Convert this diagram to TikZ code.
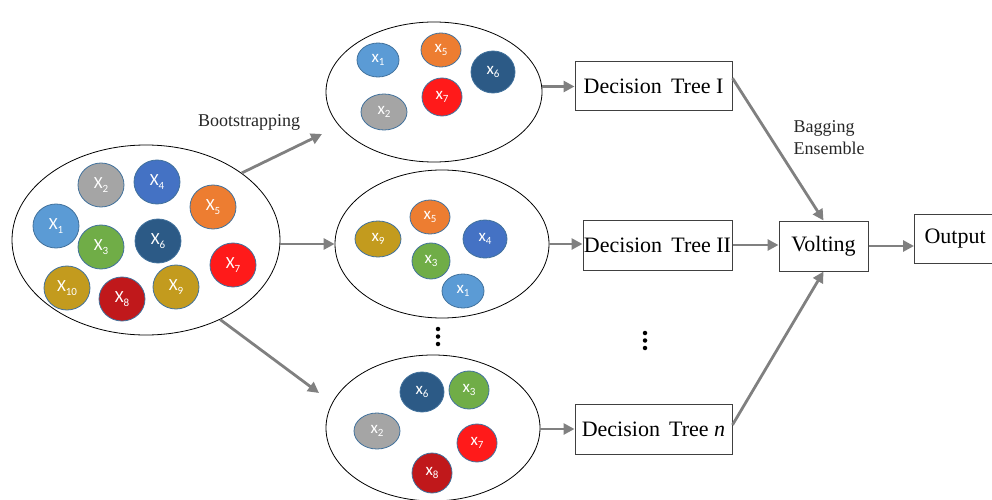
\documentclass[tikz,border=0pt]{standalone}
\usepackage{fontspec}
\setmainfont{Liberation Serif}
\newfontfamily\ballfont{Carlito}
\usetikzlibrary{shapes.geometric,arrows.meta}

\definecolor{cOne}{HTML}{5B9BD5}
\definecolor{cTwo}{HTML}{A5A5A5}
\definecolor{cThree}{HTML}{70AD47}
\definecolor{cFour}{HTML}{4472C4}
\definecolor{cFive}{HTML}{ED7D31}
\definecolor{cSix}{HTML}{2C5A86}
\definecolor{cSeven}{HTML}{FF1A1A}
\definecolor{cEight}{HTML}{C0181B}
\definecolor{cGold}{HTML}{C39B1E}
\definecolor{ballline}{HTML}{41719C}
\definecolor{arrowgray}{HTML}{808080}
\definecolor{boxline}{HTML}{404040}

% subscripted ball label
\newcommand\ballx[2]{#1\raisebox{-0.45ex}{\fontsize{11}{11}\selectfont #2}}

\tikzset{
  sample/.style={ellipse, draw=black, line width=0.8pt, inner sep=0pt},
  ball/.style={ellipse, draw=ballline, line width=0.8pt, inner sep=0pt,
               text=white, font=\ballfont\fontsize{17}{17}\selectfont},
  treebox/.style={rectangle, draw=boxline, line width=1pt, inner sep=0pt,
                  font=\fontsize{22}{26}\selectfont},
  flow/.style={draw=arrowgray, line width=2.8pt,
               -{Triangle[length=11pt,width=11pt]}},
  note/.style={font=\fontsize{18}{22}\selectfont, text=black!85, align=left},
  dot/.style={circle, fill=black, inner sep=0pt, minimum size=4.5pt},
}

\begin{document}
\begin{tikzpicture}[x=1pt,y=-1pt]
\useasboundingbox (0,0) rectangle (992,500);
\clip (0,0) rectangle (992,500);

% full sample set
\node[sample, minimum width=268pt, minimum height=190pt] (pool) at (146,240) {};
\node[ball, fill=cTwo, minimum width=46pt, minimum height=44pt] (p2) at (101,185) {\ballx{X}{2}};
\node[ball, fill=cFour, minimum width=46pt, minimum height=44pt] (p4) at (157,182) {\ballx{X}{4}};
\node[ball, fill=cFive, minimum width=46pt, minimum height=44pt] (p5) at (213,207) {\ballx{X}{5}};
\node[ball, fill=cOne, minimum width=46pt, minimum height=44pt] (p1) at (56,226) {\ballx{X}{1}};
\node[ball, fill=cThree, minimum width=46pt, minimum height=44pt] (p3) at (101,247) {\ballx{X}{3}};
\node[ball, fill=cSix, minimum width=46pt, minimum height=44pt] (p6) at (158,241) {\ballx{X}{6}};
\node[ball, fill=cSeven, minimum width=46pt, minimum height=44pt] (p7) at (233,265) {\ballx{X}{7}};
\node[ball, fill=cGold, minimum width=46pt, minimum height=44pt] (p10) at (67,288) {\ballx{X}{10}};
\node[ball, fill=cEight, minimum width=46pt, minimum height=44pt] (p8) at (122,299) {\ballx{X}{8}};
\node[ball, fill=cGold, minimum width=46pt, minimum height=44pt] (p9) at (176,287) {\ballx{X}{9}};

% bootstrap sample 1
\node[sample, minimum width=216pt, minimum height=140pt] (top) at (434,92) {};
\node[ball, fill=cOne, minimum width=42pt, minimum height=34pt] (t1) at (378,60) {\ballx{x}{1}};
\node[ball, fill=cFive, minimum width=40pt, minimum height=34pt] (t5) at (441,50) {\ballx{x}{5}};
\node[ball, fill=cSix, minimum width=44pt, minimum height=42pt] (t6) at (493,72) {\ballx{x}{6}};
\node[ball, fill=cSeven, minimum width=40pt, minimum height=38pt] (t7) at (442,97) {\ballx{x}{7}};
\node[ball, fill=cTwo, minimum width=46pt, minimum height=36pt] (t2) at (384,112) {\ballx{x}{2}};

% bootstrap sample 2
\node[sample, minimum width=214pt, minimum height=148pt] (mid) at (442,244) {};
\node[ball, fill=cFive, minimum width=40pt, minimum height=34pt] (m5) at (430,217) {\ballx{x}{5}};
\node[ball, fill=cGold, minimum width=46pt, minimum height=36pt] (m9) at (378,239) {\ballx{x}{9}};
\node[ball, fill=cFour, minimum width=44pt, minimum height=38pt] (m4) at (485,239) {\ballx{x}{4}};
\node[ball, fill=cThree, minimum width=38pt, minimum height=36pt] (m3) at (431,261) {\ballx{x}{3}};
\node[ball, fill=cOne, minimum width=42pt, minimum height=34pt] (m1) at (463,291) {\ballx{x}{1}};

% bootstrap sample n
\node[sample, minimum width=214pt, minimum height=146pt] (bot) at (433,428) {};
\node[ball, fill=cSix, minimum width=44pt, minimum height=40pt] (b6) at (422,392) {\ballx{x}{6}};
\node[ball, fill=cThree, minimum width=40pt, minimum height=38pt] (b3) at (469,390) {\ballx{x}{3}};
\node[ball, fill=cTwo, minimum width=46pt, minimum height=36pt] (b2) at (377,431) {\ballx{x}{2}};
\node[ball, fill=cSeven, minimum width=40pt, minimum height=38pt] (b7) at (477,443) {\ballx{x}{7}};
\node[ball, fill=cEight, minimum width=40pt, minimum height=40pt] (b8) at (432,473) {\ballx{x}{8}};

% vertical ellipses
\node[dot] (da1) at (438,329) {};
\node[dot] (da2) at (438,336.5) {};
\node[dot] (da3) at (438,344) {};
\node[dot] (db1) at (645,333) {};
\node[dot] (db2) at (645,340.5) {};
\node[dot] (db3) at (645,348) {};

% decision trees and voting
\node[treebox, minimum width=157pt, minimum height=49pt] (dt1) at (653.5,86.5) {Decision\, Tree I};
\node[treebox, minimum width=149pt, minimum height=50pt] (dt2) at (657.5,245) {Decision\, Tree II};
\node[treebox, minimum width=157pt, minimum height=50pt] (dtn) at (653.5,429) {Decision\, Tree \textit{n}};
\node[treebox, minimum width=89pt, minimum height=50pt] (volt) at (823.5,246) {Volting};
\node[treebox, minimum width=120pt, minimum height=49pt, anchor=west, text width=112pt, align=left] (out) at (914,238.5) {\hspace*{6pt}Output};

% labels
\node[note, anchor=base] (bootlbl) at (249,126) {Bootstrapping};
\node[note, anchor=north west] (baglbl) at (790,117) {Bagging\\Ensemble};

% free ends of the sampling arrows
\coordinate (topin) at (322,134);
\coordinate (botin) at (319,393);

% connectors
\draw[flow] (pool.35.5) -- (topin);
\draw[flow] (pool.east |- mid.west) -- (mid.west);
\draw[flow] (pool.-47) -- (botin);
\draw[flow] (top.east |- dt1.west) -- (dt1.west);
\draw[flow] (mid.east) -- (mid.east -| dt2.west);
\draw[flow] (bot.east |- dtn.west) -- (dtn.west);
\draw[flow] (dt1.6) -- (volt.north);
\draw[flow] (dt2.east) -- (dt2.east -| volt.west);
\draw[flow] (dtn.3) -- (volt.south);
\draw[flow] (volt.east) -- (volt.east -| out.west);
\end{tikzpicture}
\end{document}
